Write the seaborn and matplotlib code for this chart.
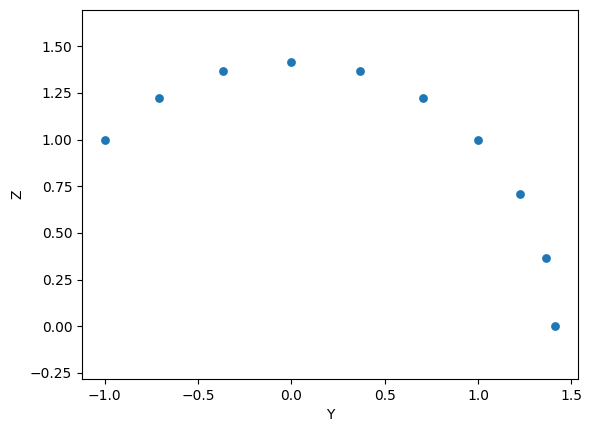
import numpy as np
import pandas as pd
import seaborn as sns
import matplotlib
matplotlib.use("Agg")
import matplotlib.pyplot as plt

# values
y_vals = [-1.0, -0.707, -0.366, 0.0, 0.366, 0.707, 1.0, 1.225, 1.366, 1.414]
z_vals = [1.0, 1.225, 1.366, 1.414, 1.366, 1.225, 1.0, 0.707, 0.366, 0.0]

df = pd.DataFrame({"Y": y_vals, "Z": z_vals})

fig, ax = plt.subplots(figsize=(5.92, 4.32), dpi=100)
fig.subplots_adjust(left=0.1385, right=0.976, top=0.978, bottom=0.1227)
sns.scatterplot(data=df, x="Y", y="Z", ax=ax, s=40, color="#1f77b4", linewidth=0)
ax.axis("equal")
ax.set_xlabel("Y")
ax.set_ylabel("Z")
fig.savefig("out.png", dpi=100)
